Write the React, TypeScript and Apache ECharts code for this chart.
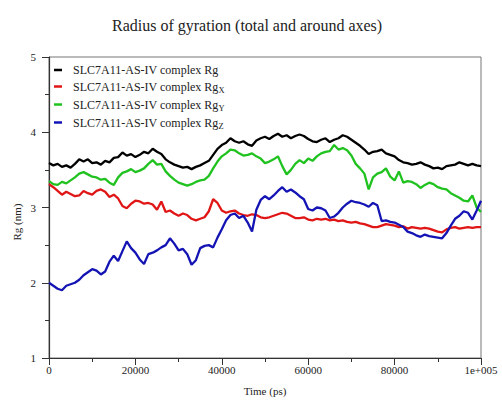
import React, { useEffect, useRef } from "react";
import * as echarts from "echarts";

// Time axis sampling (ps), one sample every 1000 ps
const timePs: number[] = Array.from({ length: 101 }, (_, i) => i * 1000);

const seriesNames = [
  "SLC7A11-AS-IV complex Rg",
  "SLC7A11-AS-IV complex RgX",
  "SLC7A11-AS-IV complex RgY",
  "SLC7A11-AS-IV complex RgZ",
];

const rgTotal = [
  3.59, 3.56, 3.58, 3.54, 3.56, 3.53, 3.58, 3.64, 3.61, 3.64,
  3.59, 3.6, 3.57, 3.62, 3.6, 3.66, 3.67, 3.73, 3.69, 3.71,
  3.67, 3.7, 3.74, 3.72, 3.78, 3.74, 3.71, 3.64, 3.6, 3.57,
  3.55, 3.53, 3.54, 3.51, 3.54, 3.56, 3.59, 3.62, 3.7, 3.78,
  3.83, 3.86, 3.92, 3.88, 3.86, 3.88, 3.84, 3.82, 3.89, 3.92,
  3.94, 3.91, 3.95, 3.98, 3.94, 3.96, 3.92, 3.95, 3.97, 3.95,
  3.91, 3.88, 3.87, 3.9, 3.92, 3.87, 3.9, 3.92, 3.96, 3.94,
  3.9, 3.86, 3.82, 3.77, 3.71, 3.74, 3.75, 3.77, 3.72, 3.7,
  3.68, 3.63, 3.6, 3.59, 3.57, 3.58, 3.6, 3.57, 3.55, 3.52,
  3.53, 3.51, 3.55, 3.56, 3.57, 3.6, 3.58, 3.56, 3.58, 3.56,
  3.55,
];

const rgX = [
  3.31, 3.27, 3.22, 3.17, 3.21, 3.18, 3.15, 3.16, 3.22, 3.19,
  3.17, 3.22, 3.24, 3.21, 3.14, 3.17, 3.12, 3.02, 2.99, 3.05,
  3.09, 3.08, 3.05, 3.06, 3.04, 2.97, 3.08, 2.94, 2.96, 2.92,
  2.89, 2.92, 2.9, 2.85, 2.83, 2.85, 2.87, 2.95, 3.11, 3.06,
  2.96, 2.93, 2.95, 2.96, 2.92, 2.9, 2.89, 2.91, 2.9, 2.87,
  2.86, 2.87, 2.89, 2.91, 2.93, 2.92, 2.89, 2.86, 2.86, 2.87,
  2.84, 2.83, 2.85, 2.84, 2.85, 2.83, 2.84, 2.82, 2.83, 2.81,
  2.8, 2.81, 2.79, 2.78, 2.76, 2.74, 2.74, 2.76, 2.78, 2.77,
  2.76, 2.74, 2.75, 2.72, 2.74, 2.73, 2.72, 2.73, 2.72, 2.7,
  2.68, 2.67, 2.71, 2.73, 2.74, 2.72, 2.73, 2.74, 2.73, 2.74,
  2.74,
];

const rgY = [
  3.35, 3.31, 3.3, 3.34, 3.32, 3.36, 3.4, 3.45, 3.47, 3.44,
  3.41, 3.4, 3.37, 3.38, 3.33, 3.3, 3.4, 3.46, 3.48, 3.51,
  3.47, 3.49, 3.52, 3.58, 3.63, 3.57, 3.58, 3.48, 3.42, 3.37,
  3.33, 3.31, 3.29, 3.31, 3.34, 3.36, 3.37, 3.42, 3.52, 3.61,
  3.68, 3.72, 3.77, 3.76, 3.72, 3.69, 3.7, 3.72, 3.68, 3.65,
  3.59, 3.61, 3.64, 3.68, 3.55, 3.44, 3.5, 3.58, 3.63, 3.59,
  3.65, 3.62, 3.68, 3.72, 3.74, 3.75, 3.83, 3.77, 3.79, 3.76,
  3.69, 3.58, 3.52, 3.45, 3.24, 3.4, 3.45, 3.47, 3.52, 3.41,
  3.36, 3.48, 3.33, 3.35, 3.34, 3.31, 3.26, 3.3, 3.33, 3.31,
  3.27, 3.25, 3.24, 3.19, 3.16, 3.13, 3.09, 3.08, 3.16, 3.0,
  2.94,
];

const rgZ = [
  2.0, 1.96, 1.92, 1.9, 1.96, 1.98, 2.0, 2.04, 2.1, 2.14,
  2.18, 2.16, 2.11, 2.15, 2.28, 2.36, 2.29, 2.42, 2.55, 2.46,
  2.4, 2.31, 2.25, 2.38, 2.4, 2.43, 2.47, 2.5, 2.59, 2.52,
  2.43, 2.45, 2.38, 2.24, 2.3, 2.46, 2.49, 2.5, 2.47, 2.6,
  2.71, 2.83, 2.9, 2.92, 2.86, 2.89, 2.8, 2.68, 2.97, 3.1,
  3.15, 3.11, 3.16, 3.22, 3.27, 3.21, 3.24, 3.2, 3.15, 3.11,
  2.98, 2.96, 3.0, 2.99, 2.96, 2.86, 2.88, 2.93, 3.0, 3.05,
  3.09, 3.07, 3.06, 3.04, 3.01, 3.06, 3.03, 2.82, 2.83, 2.81,
  2.8, 2.77, 2.74, 2.68, 2.66, 2.63, 2.61, 2.64, 2.62, 2.61,
  2.6, 2.59, 2.66, 2.76, 2.85, 2.89, 2.95, 2.93, 2.84, 2.96,
  3.09,
];

const seriesColors = ["#000000", "#e01515", "#1fc21f", "#1414b4"];
const seriesValues = [rgTotal, rgX, rgY, rgZ];

const SERIF = "'Liberation Serif', 'Times New Roman', 'DejaVu Serif', serif";

export default function App() {
  const ref = useRef<HTMLDivElement>(null);

  useEffect(() => {
    if (!ref.current) return;
    const chart = echarts.init(ref.current, undefined, { renderer: "svg" });

    const series = seriesNames.map((name, k) => ({
      name,
      type: "line",
      data: timePs.map((t, i) => [t, seriesValues[k][i]]),
      showSymbol: false,
      symbol: "none",
      lineStyle: { color: seriesColors[k], width: 2.3 },
      itemStyle: { color: seriesColors[k] },
      z: k === 3 ? 5 : 4 - k,
    }));

    chart.setOption({
      animation: false,
      backgroundColor: "#ffffff",
      title: {
        text: "Radius of gyration (total and around axes)",
        left: 107,
        top: 12,
        textStyle: {
          fontFamily: SERIF,
          fontSize: 16,
          fontWeight: "normal",
          color: "#222",
        },
      },
      legend: {
        orient: "vertical",
        left: 49,
        top: 59,
        itemWidth: 8,
        itemHeight: 2.5,
        itemGap: 3,
        icon: "rect",
        data: seriesNames,
        formatter: (name: string) => {
          const base = "SLC7A11-AS-IV complex Rg";
          const sub = name.slice(base.length);
          return sub ? `{m|${base}}{s|${sub}}` : `{m|${base}}`;
        },
        textStyle: {
          padding: [0, 0, 0, 6],
          rich: {
            m: { fontFamily: SERIF, fontSize: 12, color: "#222", lineHeight: 15 },
            s: {
              fontFamily: SERIF,
              fontSize: 8.5,
              color: "#222",
              padding: [6, 0, 0, 0],
              lineHeight: 15,
            },
          },
        },
      },
      grid: {
        left: 49,
        right: 21,
        top: 57,
        bottom: 37,
        show: true,
        borderColor: "#777",
        borderWidth: 1,
        backgroundColor: "transparent",
      },
      xAxis: {
        type: "value",
        min: 0,
        max: 100000,
        interval: 20000,
        name: "Time (ps)",
        nameLocation: "middle",
        nameGap: 27,
        nameTextStyle: { fontFamily: SERIF, fontSize: 11, color: "#222" },
        axisLine: { show: true, lineStyle: { color: "#333", width: 1.2 } },
        axisTick: { show: true, length: 7, lineStyle: { color: "#333" } },
        minorTick: { show: true, splitNumber: 2, length: 4, lineStyle: { color: "#333" } },
        splitLine: { show: false },
        axisLabel: {
          fontFamily: SERIF,
          fontSize: 11,
          color: "#222",
          margin: 6,
          formatter: (v: number) => (v === 100000 ? "1e+005" : String(v)),
        },
      },
      yAxis: {
        type: "value",
        min: 1,
        max: 5,
        interval: 1,
        axisLine: { show: true, lineStyle: { color: "#333", width: 1.2 } },
        axisTick: { show: true, length: 7, lineStyle: { color: "#333" } },
        minorTick: { show: true, splitNumber: 2, length: 4, lineStyle: { color: "#333" } },
        splitLine: { show: false },
        axisLabel: {
          fontFamily: SERIF,
          fontSize: 11,
          color: "#222",
          margin: 13,
        },
      },
      graphic: [
        {
          type: "text",
          x: 17,
          y: 222,
          rotation: Math.PI / 2,
          style: {
            text: "Rg (nm)",
            fontFamily: SERIF,
            fontSize: 11,
            fill: "#222",
            align: "center",
            verticalAlign: "middle",
          },
        },
      ],
      series,
    });

    return () => chart.dispose();
  }, []);

  return (
    <div
      ref={ref}
      style={{ position: "fixed", left: 0, top: 0, width: 502, height: 401 }}
    />
  );
}
